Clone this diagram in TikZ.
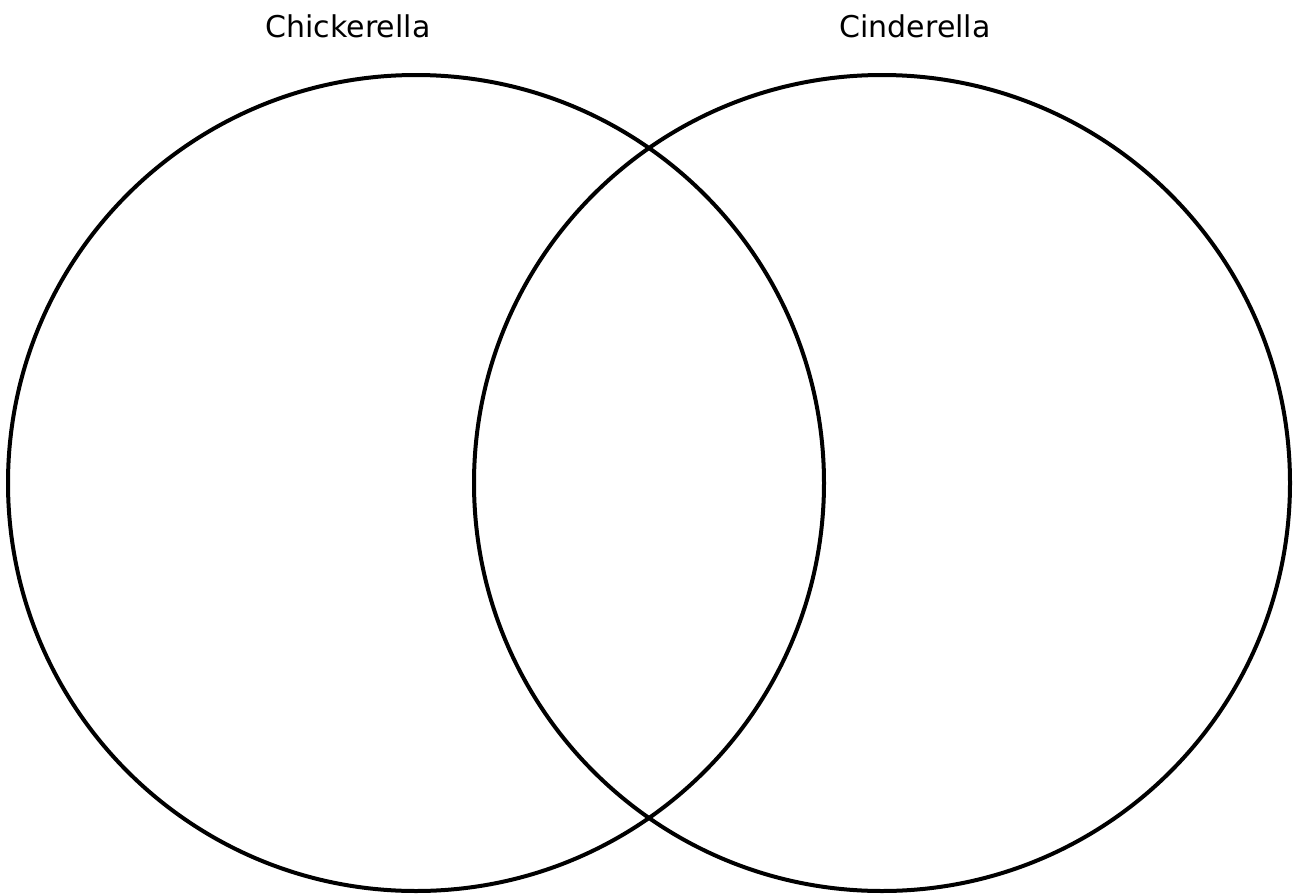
\documentclass[tikz,border=0pt]{standalone}
\usepackage{fontspec}
\setmainfont{DejaVu Sans}
\begin{document}
\begin{tikzpicture}[x=1pt,y=-1pt,
  ring/.style={draw=black,line width=4pt,circle,minimum size=816pt,inner sep=0pt},
  title/.style={font=\fontsize{30}{34}\selectfont,anchor=base,inner sep=0pt}]
\useasboundingbox (0,0) rectangle (1296,894);
\node[ring] (left) at (416,483) {};
\node[ring] (right) at (882,483) {};
\node[title] (lt) at (348,37) {Chickerella};
\node[title] (rt) at (915,37) {Cinderella};
\end{tikzpicture}
\end{document}
